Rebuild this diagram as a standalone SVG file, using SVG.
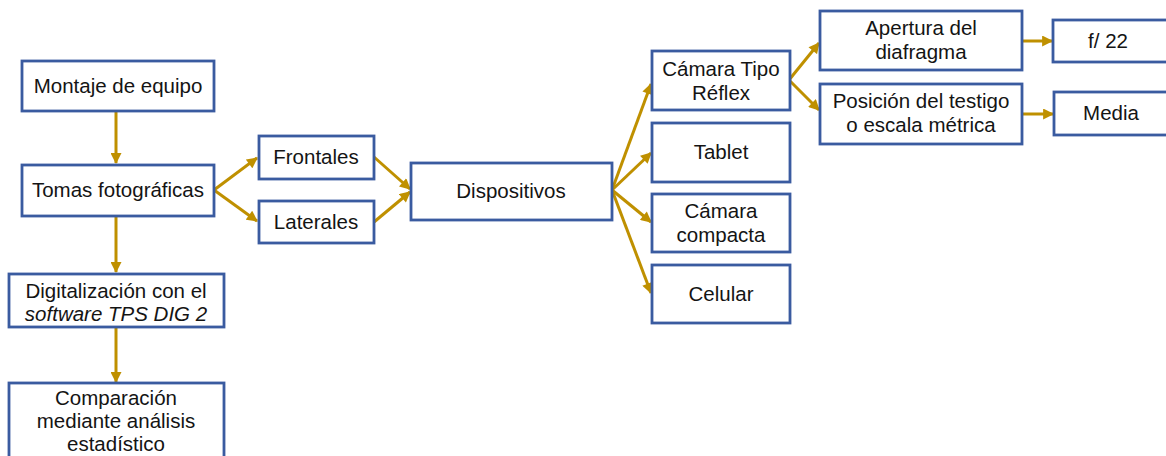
<svg xmlns="http://www.w3.org/2000/svg" width="1166" height="456" viewBox="0 0 1166 456">
  <style>
    .box { fill: #ffffff; stroke: #3A5BA0; stroke-width: 2.8; }
    .lbl { font-family: "Liberation Sans", Arial, sans-serif; font-size: 20.5px; fill: #141414; text-anchor: middle; }
    .it { font-style: italic; }
    .conn line { stroke: #BF9000; stroke-width: 3; marker-end: url(#head); }
  </style>
  <defs>
    <marker id="head" viewBox="0 0 10 10" refX="9" refY="5" markerWidth="12" markerHeight="11" markerUnits="userSpaceOnUse" orient="auto">
      <path d="M0,0 L10,5 L0,10 z" fill="#BF9000"/>
    </marker>
  </defs>
  <rect width="1166" height="456" fill="#ffffff"/>

  <!-- connectors -->
  <g id="connectors" class="conn">
    <line x1="116" y1="112" x2="116" y2="163"/>
    <line x1="116" y1="217" x2="116" y2="272"/>
    <line x1="116" y1="327" x2="116" y2="382"/>
    <line x1="214" y1="190" x2="257" y2="158"/>
    <line x1="214" y1="190" x2="257" y2="221"/>
    <line x1="374" y1="157" x2="410" y2="189"/>
    <line x1="374" y1="222" x2="410" y2="192"/>
    <line x1="612" y1="190" x2="651" y2="84"/>
    <line x1="612" y1="190" x2="651" y2="153"/>
    <line x1="612" y1="190" x2="651" y2="222"/>
    <line x1="612" y1="190" x2="651" y2="293"/>
    <line x1="789" y1="80" x2="819" y2="43"/>
    <line x1="789" y1="80" x2="819" y2="110"/>
    <line x1="1022" y1="41" x2="1052" y2="41"/>
    <line x1="1022" y1="114" x2="1053" y2="114"/>
  </g>

  <g id="montaje">
    <rect class="box" x="22" y="61" width="192" height="50"/>
    <text class="lbl" x="118" y="93">Montaje de equipo</text>
  </g>
  <g id="tomas">
    <rect class="box" x="22" y="165" width="192" height="51"/>
    <text class="lbl" x="118" y="197">Tomas fotográficas</text>
  </g>
  <g id="digitalizacion">
    <rect class="box" x="9" y="274" width="215" height="53"/>
    <text class="lbl" x="116" y="298">Digitalización con el</text>
    <text class="lbl it" x="116" y="321">software TPS DIG 2</text>
  </g>
  <g id="comparacion">
    <rect class="box" x="9" y="383" width="215" height="80"/>
    <text class="lbl" x="116" y="405">Comparación</text>
    <text class="lbl" x="116" y="428">mediante análisis</text>
    <text class="lbl" x="116" y="451">estadístico</text>
  </g>
  <g id="frontales">
    <rect class="box" x="259" y="136" width="115" height="43"/>
    <text class="lbl" x="316" y="164">Frontales</text>
  </g>
  <g id="laterales">
    <rect class="box" x="259" y="201" width="115" height="42"/>
    <text class="lbl" x="316" y="229">Laterales</text>
  </g>
  <g id="dispositivos">
    <rect class="box" x="411" y="163" width="201" height="57"/>
    <text class="lbl" x="511" y="198">Dispositivos</text>
  </g>
  <g id="reflex">
    <rect class="box" x="652" y="51" width="138" height="59"/>
    <text class="lbl" x="721" y="76">Cámara Tipo</text>
    <text class="lbl" x="721" y="100">Réflex</text>
  </g>
  <g id="tablet">
    <rect class="box" x="652" y="123" width="138" height="59"/>
    <text class="lbl" x="721" y="159">Tablet</text>
  </g>
  <g id="compacta">
    <rect class="box" x="652" y="194" width="138" height="58"/>
    <text class="lbl" x="721" y="218">Cámara</text>
    <text class="lbl" x="721" y="242">compacta</text>
  </g>
  <g id="celular">
    <rect class="box" x="652" y="265" width="138" height="58"/>
    <text class="lbl" x="721" y="301">Celular</text>
  </g>
  <g id="apertura">
    <rect class="box" x="820" y="11" width="202" height="59"/>
    <text class="lbl" x="921" y="35">Apertura del</text>
    <text class="lbl" x="921" y="59">diafragma</text>
  </g>
  <g id="posicion">
    <rect class="box" x="820" y="84" width="202" height="60"/>
    <text class="lbl" x="921" y="108">Posición del testigo</text>
    <text class="lbl" x="921" y="132">o escala métrica</text>
  </g>
  <g id="f22">
    <rect class="box" x="1053" y="20" width="130" height="42"/>
    <text class="lbl" x="1108" y="48">f/ 22</text>
  </g>
  <g id="media">
    <rect class="box" x="1054" y="92" width="130" height="43"/>
    <text class="lbl" x="1111" y="120">Media</text>
  </g>
</svg>
